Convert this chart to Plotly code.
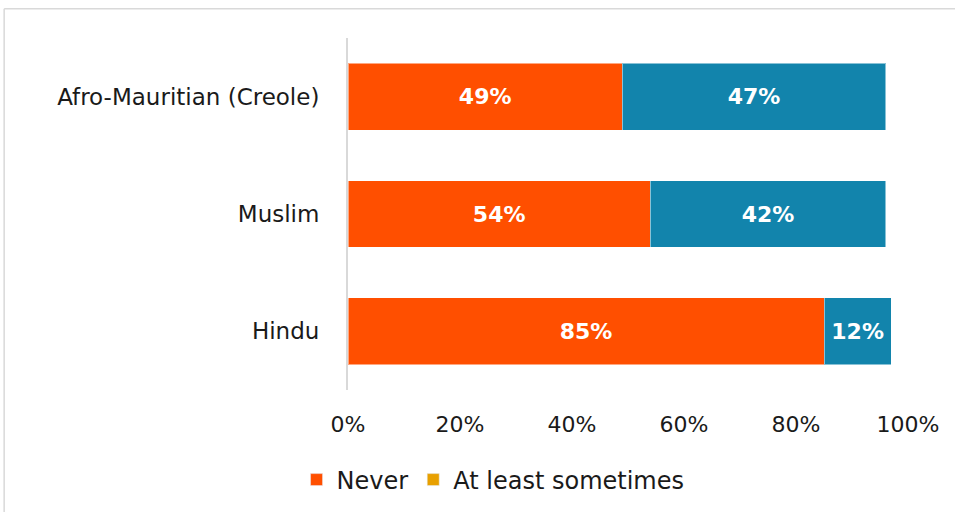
import plotly.graph_objects as go

categories = ["Afro-Mauritian (Creole)", "Muslim", "Hindu"]
never = [49, 54, 85]
sometimes = [47, 42, 12]
series_names = ["Never", "At least sometimes"]
bar_colors = ["#FF4F00", "#1284AC"]
legend_colors = ["#FF4F00", "#E8A000"]
tick_vals = [0, 20, 40, 60, 80, 100]
tick_text = ["0%", "20%", "40%", "60%", "80%", "100%"]

font_name = "DejaVu Sans"

fig = go.Figure()
for name, vals, col in zip(series_names, [never, sometimes], bar_colors):
    fig.add_trace(go.Bar(
        y=categories, x=vals, orientation="h", name=name,
        marker=dict(color=col, line=dict(color="rgba(255,255,255,0.5)", width=1)),
        text=[f"{v}%" for v in vals], textposition="inside",
        insidetextanchor="middle",
        textfont=dict(color="white", size=22, family=font_name, weight="bold"),
        showlegend=False, hoverinfo="skip",
    ))
# legend entries (swatches as in the original)
for name, col in zip(series_names, legend_colors):
    fig.add_trace(go.Bar(y=[None], x=[None], orientation="h", name=name,
                         marker=dict(color=col), showlegend=True))

fig.update_layout(
    barmode="stack",
    bargap=0.43,
    width=955, height=512,
    margin=dict(l=348, r=47, t=38, b=122, autoexpand=False),
    paper_bgcolor="white", plot_bgcolor="white",
    font=dict(family=font_name, size=22, color="#1a1a1a"),
    legend=dict(orientation="h", x=0.259, xanchor="center",
                yref="container", y=0.0625, yanchor="middle",
                font=dict(size=24), itemwidth=30, traceorder="normal"),
    shapes=[
        dict(type="line", xref="paper", yref="paper", x0=-0.614, x1=1.2,
             y0=1.083, y1=1.083, line=dict(color="#d9d9d9", width=1.5)),
        dict(type="line", xref="paper", yref="paper", x0=-0.614, x1=-0.614,
             y0=1.083, y1=-0.5, line=dict(color="#d9d9d9", width=1.5)),
    ],
)
fig.update_xaxes(range=[0, 100], tickvals=tick_vals, ticktext=tick_text,
                 showgrid=False, zeroline=False, showline=False, ticks="",
                 ticklabelstandoff=19)
fig.update_yaxes(categoryorder="array", categoryarray=categories[::-1],
                 showgrid=False, zeroline=False, showline=True,
                 linecolor="#d9d9d9", linewidth=2, ticks="", ticklabelstandoff=22,
                 tickfont=dict(size=23))

fig.write_html("out.html", config={"displayModeBar": False},
               post_script="document.body.style.margin='0';")
